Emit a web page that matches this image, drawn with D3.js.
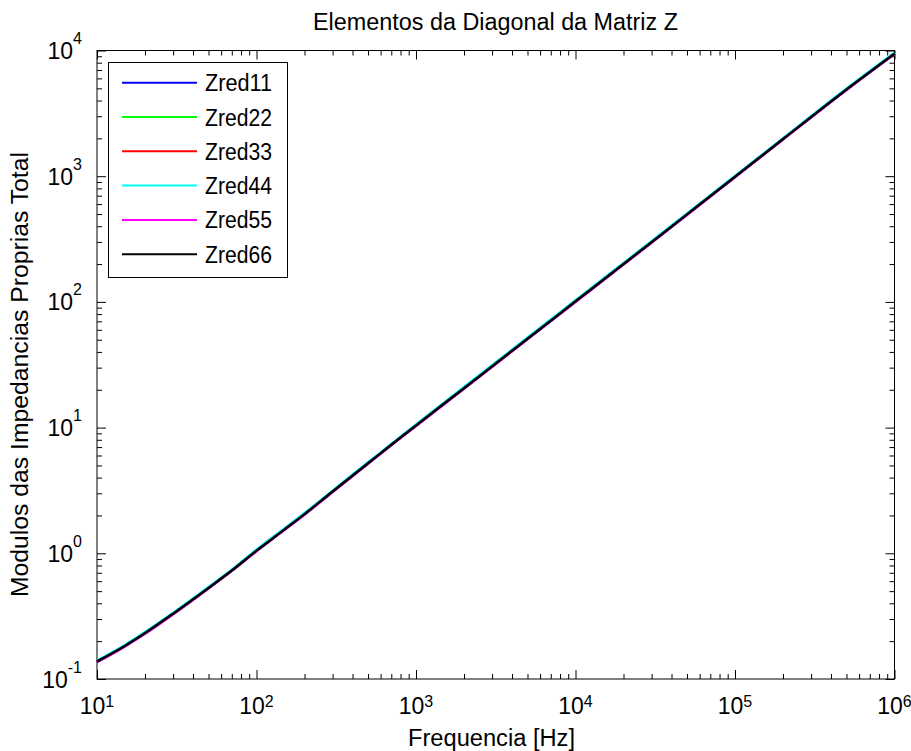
<!DOCTYPE html>
<head>
<meta charset="utf-8">
<script src="https://cdn.jsdelivr.net/npm/d3@7"></script>
<style>
  body { margin: 0; background: #fff; }
  text { font-family: "Liberation Sans", Arial, sans-serif; fill: #000; }
</style>
</head>
<body>
<svg width="911" height="751"></svg>
<script>
// frequencies (Hz) and |Z|
var freq   = [10, 15, 20, 30, 50, 70, 100, 150, 200, 300, 500, 700, 1e3, 2e3, 5e3, 1e4, 2e4, 5e4, 1e5, 2e5, 5e5, 1e6]
var zred11 = [0.137, 0.183, 0.231, 0.330, 0.530, 0.730, 1.05, 1.55, 2.05, 3.10, 5.20, 7.30, 10.4, 20.6, 51.0, 101, 200, 497, 990, 1975, 4900, 9450]
var zred22 = [0.137, 0.183, 0.231, 0.331, 0.531, 0.731, 1.05, 1.55, 2.05, 3.10, 5.21, 7.31, 10.4, 20.6, 51.1, 101, 200, 498, 991, 1977, 4905, 9460]
var zred33 = [0.138, 0.184, 0.232, 0.330, 0.530, 0.729, 1.05, 1.55, 2.06, 3.11, 5.20, 7.30, 10.4, 20.7, 51.0, 101, 201, 497, 992, 1976, 4902, 9455]
var zred44 = [0.140, 0.187, 0.236, 0.336, 0.540, 0.740, 1.07, 1.58, 2.09, 3.15, 5.30, 7.40, 10.6, 21.0, 52.0, 103, 204, 505, 1005, 2005, 4980, 9600]
var zred55 = [0.136, 0.182, 0.229, 0.327, 0.525, 0.725, 1.04, 1.54, 2.03, 3.07, 5.15, 7.25, 10.3, 20.4, 50.5, 100, 198, 492, 982, 1960, 4860, 9380]
var zred66 = [0.138, 0.184, 0.232, 0.331, 0.530, 0.730, 1.05, 1.55, 2.05, 3.10, 5.20, 7.30, 10.4, 20.6, 51.0, 101, 200, 497, 990, 1975, 4900, 9450]

var names  = ['Zred11', 'Zred22', 'Zred33', 'Zred44', 'Zred55', 'Zred66']
var colors = ['#0000ff', '#00ff00', '#ff0000', '#00ffff', '#ff00ff', '#000000']
var series = [zred11, zred22, zred33, zred44, zred55, zred66]

var xDecades = [1e1, 1e2, 1e3, 1e4, 1e5, 1e6]
var yDecades = [1e-1, 1e0, 1e1, 1e2, 1e3, 1e4]
var xExp = ['1', '2', '3', '4', '5', '6']
var yExp = ['-1', '0', '1', '2', '3', '4']

var pLeft = 97, pRight = 894.5, pTop = 50.5, pBottom = 679

var svg = d3.select('svg')

var x = d3.scaleLog().domain([10, 1e6]).range([pLeft, pRight])
var y = d3.scaleLog().domain([0.1, 1e4]).range([pBottom, pTop])

function isDecade(v) { return Math.abs(Math.log10(v) - Math.round(Math.log10(v))) < 1e-6 }
var minorX = x.ticks().filter(function (v) { return !isDecade(v) })
var minorY = y.ticks().filter(function (v) { return !isDecade(v) })

function clean(g) {
  g.select('.domain').remove()
  g.selectAll('.tick line').attr('stroke', '#000').attr('stroke-width', 1)
  g.selectAll('.tick text').remove()
}

// ticks, inward on all four sides
svg.append('g').attr('transform', 'translate(0,' + pBottom + ')')
  .call(d3.axisBottom(x).tickValues(minorX).tickSize(-5)).call(clean)
svg.append('g').attr('transform', 'translate(0,' + pBottom + ')')
  .call(d3.axisBottom(x).tickValues(xDecades).tickSize(-9)).call(clean)
svg.append('g').attr('transform', 'translate(0,' + pTop + ')')
  .call(d3.axisTop(x).tickValues(minorX).tickSize(-5)).call(clean)
svg.append('g').attr('transform', 'translate(0,' + pTop + ')')
  .call(d3.axisTop(x).tickValues(xDecades).tickSize(-9)).call(clean)
svg.append('g').attr('transform', 'translate(' + pLeft + ',0)')
  .call(d3.axisLeft(y).tickValues(minorY).tickSize(-5)).call(clean)
svg.append('g').attr('transform', 'translate(' + pLeft + ',0)')
  .call(d3.axisLeft(y).tickValues(yDecades).tickSize(-9)).call(clean)
svg.append('g').attr('transform', 'translate(' + pRight + ',0)')
  .call(d3.axisRight(y).tickValues(minorY).tickSize(-5)).call(clean)
svg.append('g').attr('transform', 'translate(' + pRight + ',0)')
  .call(d3.axisRight(y).tickValues(yDecades).tickSize(-9)).call(clean)

// box
svg.append('rect')
  .attr('x', pLeft).attr('y', pTop)
  .attr('width', pRight - pLeft).attr('height', pBottom - pTop)
  .attr('fill', 'none').attr('stroke', '#000').attr('stroke-width', 1)

// tick labels 10^n
var xl = svg.append('g').selectAll('text').data(xDecades).enter().append('text')
  .attr('x', function (d) { return x(d) })
  .attr('y', 714)
  .attr('text-anchor', 'middle')
  .style('font-size', '23px')
xl.append('tspan').text('10')
xl.append('tspan').attr('dy', -7).style('font-size', '16px').text(function (d, i) { return xExp[i] })

var yl = svg.append('g').selectAll('text').data(yDecades).enter().append('text')
  .attr('x', 82)
  .attr('y', function (d) { return y(d) + 8.5 })
  .attr('text-anchor', 'end')
  .style('font-size', '23px')
yl.append('tspan').text('10')
yl.append('tspan').attr('dy', -15).style('font-size', '16px').text(function (d, i) { return yExp[i] })

// curves
var line = d3.line()
  .x(function (d, i) { return x(freq[i]) })
  .y(function (d) { return y(d) })
  .curve(d3.curveMonotoneX)

svg.append('g').selectAll('path').data(series).enter().append('path')
  .attr('d', line)
  .attr('fill', 'none')
  .attr('stroke', function (d, i) { return colors[i] })
  .attr('stroke-width', 2.5)

// legend
var lg = svg.append('g')
lg.append('rect')
  .attr('x', 108.5).attr('y', 62.5).attr('width', 179).attr('height', 215)
  .attr('fill', '#fff').attr('stroke', '#000').attr('stroke-width', 1)
var item = lg.selectAll('g').data(names).enter().append('g')
  .attr('transform', function (d, i) { return 'translate(0,' + (82.7 + i * 34.3) + ')' })
item.append('line')
  .attr('x1', 122).attr('x2', 197)
  .attr('stroke', function (d, i) { return colors[i] })
  .attr('stroke-width', 2)
item.append('text')
  .attr('x', 205).attr('y', 8.5)
  .attr('textLength', 67).attr('lengthAdjust', 'spacingAndGlyphs')
  .style('font-size', '23px')
  .text(function (d) { return d })

// title and axis labels
svg.append('text')
  .attr('x', 495.5).attr('y', 30)
  .attr('text-anchor', 'middle')
  .attr('textLength', 365).attr('lengthAdjust', 'spacingAndGlyphs')
  .style('font-size', '23px')
  .text('Elementos da Diagonal da Matriz Z')

svg.append('text')
  .attr('x', 491.5).attr('y', 746)
  .attr('text-anchor', 'middle')
  .attr('textLength', 167).attr('lengthAdjust', 'spacingAndGlyphs')
  .style('font-size', '23px')
  .text('Frequencia [Hz]')

svg.append('text')
  .attr('transform', 'translate(28,374.5) rotate(-90)')
  .attr('text-anchor', 'middle')
  .attr('textLength', 445).attr('lengthAdjust', 'spacingAndGlyphs')
  .style('font-size', '23px')
  .text('Modulos das Impedancias Proprias Total')
</script>
</body>
